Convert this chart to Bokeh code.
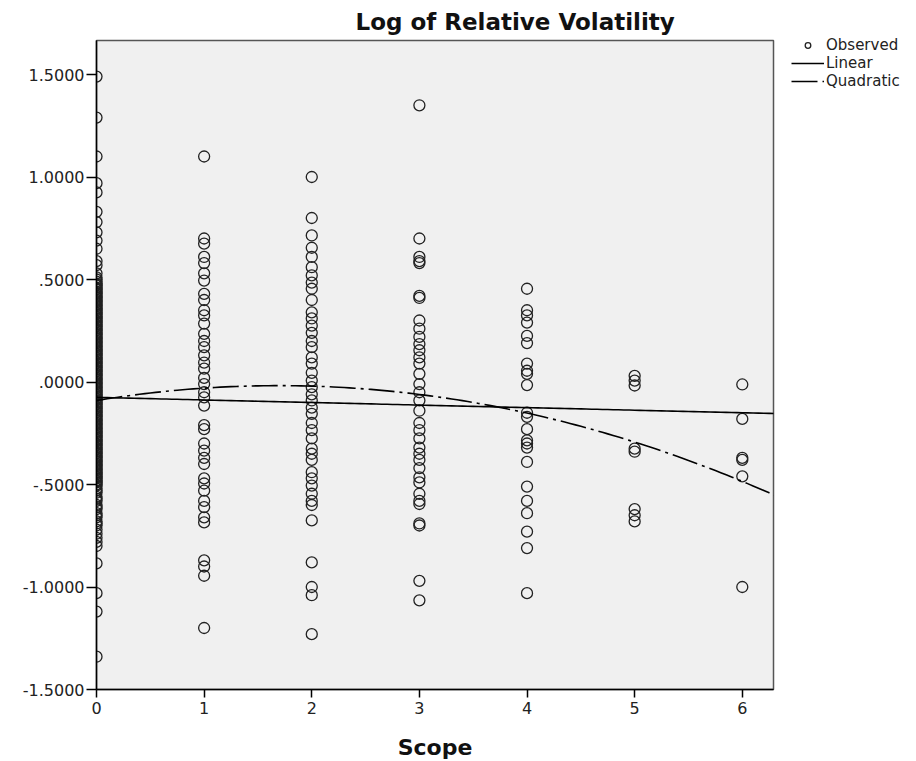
from bokeh.plotting import figure
from bokeh.models import (Range1d, FixedTicker, Legend, LegendItem, Title)
from bokeh.embed import file_html
from bokeh.resources import INLINE

# ---- data ----
scope0 = [1.49, 1.29, 1.10, 0.97, 0.925, 0.83, 0.78, 0.73, 0.69, 0.65, 0.59, 0.57, 0.53,
          0.51, 0.50, 0.49, 0.48, 0.47, 0.46, 0.45, 0.44, 0.43, 0.42, 0.41, 0.40, 0.39, 0.38,
          0.37, 0.36, 0.35, 0.34, 0.33, 0.32, 0.31, 0.30, 0.29, 0.28, 0.27, 0.26, 0.25, 0.24,
          0.23, 0.22, 0.21, 0.20, 0.19, 0.18, 0.17, 0.16, 0.15, 0.14, 0.13, 0.12, 0.11, 0.10,
          0.09, 0.08, 0.07, 0.06, 0.05, 0.04, 0.03, 0.02, 0.01, 0.00, -0.01, -0.02, -0.03,
          -0.04, -0.05, -0.06, -0.07, -0.08, -0.09, -0.10, -0.11, -0.12, -0.13, -0.14, -0.15,
          -0.16, -0.17, -0.18, -0.19, -0.20, -0.21, -0.22, -0.23, -0.24, -0.25, -0.26, -0.27,
          -0.28, -0.29, -0.30, -0.31, -0.32, -0.33, -0.34, -0.35, -0.36, -0.37, -0.38, -0.39,
          -0.40, -0.41, -0.42, -0.43, -0.44, -0.45, -0.46, -0.47, -0.48, -0.49, -0.50,
          -0.52, -0.54, -0.56, -0.58, -0.60, -0.62, -0.64, -0.66, -0.68, -0.70, -0.72, -0.74,
          -0.76, -0.78, -0.80, -0.885, -1.03, -1.12, -1.34,
          0.475, 0.455, 0.435, 0.415, 0.395, 0.375, 0.355, 0.335, 0.315, 0.295, 0.275, 0.255,
          0.235, 0.215, 0.195, 0.175, 0.155, 0.135, 0.115, 0.095, 0.075, 0.055, 0.035, 0.015,
          -0.005, -0.025, -0.045, -0.065, -0.085, -0.105, -0.125, -0.145, -0.165, -0.185,
          -0.205, -0.225, -0.245, -0.265, -0.285, -0.305, -0.325, -0.345, -0.365, -0.385,
          -0.405, -0.425, -0.445, -0.465, -0.485, -0.505, -0.53, -0.57, -0.61, -0.65, -0.69]
scope1 = [1.10, 0.70, 0.675, 0.61, 0.58, 0.53, 0.495, 0.43, 0.40, 0.35, 0.325, 0.285, 0.235,
          0.20, 0.17, 0.13, 0.095, 0.065, 0.02, -0.01, -0.05, -0.075, -0.115, -0.21, -0.23,
          -0.30, -0.335, -0.37, -0.40, -0.47, -0.495, -0.53, -0.58, -0.61, -0.66, -0.685,
          -0.87, -0.90, -0.945, -1.20]
scope2 = [1.00, 0.80, 0.715, 0.655, 0.61, 0.56, 0.52, 0.485, 0.455, 0.40, 0.34, 0.31, 0.275,
          0.24, 0.20, 0.17, 0.12, 0.09, 0.045, 0.007, -0.025, -0.06, -0.09, -0.125, -0.155,
          -0.20, -0.235, -0.275, -0.325, -0.35, -0.38, -0.44, -0.47, -0.505, -0.545, -0.58,
          -0.60, -0.675, -0.88, -1.00, -1.04, -1.23]
scope3 = [1.35, 0.70, 0.61, 0.59, 0.58, 0.42, 0.41, 0.30, 0.26, 0.22, 0.185, 0.155, 0.12, 0.09,
          0.04, -0.01, -0.05, -0.09, -0.14, -0.20, -0.235, -0.275, -0.32, -0.35, -0.38, -0.42,
          -0.465, -0.49, -0.545, -0.58, -0.595, -0.69, -0.70, -0.97, -1.065]
scope4 = [0.455, 0.35, 0.325, 0.29, 0.225, 0.19, 0.09, 0.055, 0.04, -0.015, -0.15, -0.17,
          -0.23, -0.285, -0.30, -0.32, -0.39, -0.51, -0.58, -0.64, -0.73, -0.81, -1.03]
scope5 = [0.03, 0.007, -0.017, -0.325, -0.34, -0.62, -0.65, -0.68]
scope6 = [-0.012, -0.18, -0.37, -0.38, -0.46, -1.00]

# fitted models (coefficients)
linear_coef = [-0.075, -0.0125]
quad_coef = [-0.09, 0.0854, -0.0252]
curve_x = [i * 0.05 for i in range(0, 127)]

yticks = [-1.5, -1.0, -0.5, 0.0, 0.5, 1.0, 1.5]
ytick_labels = ["-1.5000", "-1.0000", "-.5000", ".0000", ".5000", "1.0000", "1.5000"]
xticks = [0, 1, 2, 3, 4, 5, 6]

# ---- build ----
obs_x, obs_y = [], []
for s, vals in enumerate([scope0, scope1, scope2, scope3, scope4, scope5, scope6]):
    obs_x += [s] * len(vals)
    obs_y += vals

lin_y = [linear_coef[0] + linear_coef[1] * x for x in curve_x]
quad_y = [quad_coef[0] + quad_coef[1] * x + quad_coef[2] * x * x for x in curve_x]

FONT = "DejaVu Sans"

p = figure(width=916, height=761, output_backend="svg", toolbar_location=None,
           x_range=Range1d(0, 6.29), y_range=Range1d(-1.5, 1.666),
           min_border_left=96, min_border_right=143, min_border_top=40, min_border_bottom=72)
p.frame_width = 677
p.frame_height = 649
p.background_fill_color = "#f0f0f0"
p.border_fill_color = "white"
p.outline_line_color = "#555555"
p.outline_line_width = 1.5
p.xgrid.visible = False
p.ygrid.visible = False

r_obs = p.scatter(obs_x, obs_y, size=11, marker="circle", fill_alpha=0,
                  line_color="#222222", line_width=1.3)
r_lin = p.line(curve_x, lin_y, line_color="black", line_width=1.6)
r_quad = p.line(curve_x, quad_y, line_color="black", line_width=1.6, line_dash="26 5 3 5")

for ax in (p.xaxis[0], p.yaxis[0]):
    ax.axis_line_color = "black"
    ax.axis_line_width = 1.5
    ax.major_tick_line_color = "black"
    ax.major_tick_line_width = 1.5
    ax.major_tick_in = 0
    ax.minor_tick_line_color = None
    ax.major_label_text_font = FONT
    ax.major_label_text_font_size = "16px"
    ax.major_label_text_color = "#222222"

p.xaxis.ticker = FixedTicker(ticks=xticks)
p.xaxis.major_tick_out = 8
p.xaxis.major_label_standoff = 4
p.xaxis.axis_label = "Scope"
p.xaxis.axis_label_text_font = FONT
p.xaxis.axis_label_text_font_style = "bold"
p.xaxis.axis_label_text_font_size = "22px"
p.xaxis.axis_label_standoff = 18
p.xaxis.axis_label_text_color = "#111111"

p.yaxis.ticker = FixedTicker(ticks=yticks)
p.yaxis.major_label_overrides = {t: l for t, l in zip(yticks, ytick_labels)}
p.yaxis.major_tick_out = 10
p.yaxis.major_label_standoff = 2

title = Title(text="Log of Relative Volatility", align="left", offset=259,
              text_font=FONT, text_font_style="bold", text_font_size="23px",
              text_color="#111111", standoff=11)
p.add_layout(title, "above")

legend = Legend(items=[LegendItem(label="Observed", renderers=[r_obs]),
                       LegendItem(label="Linear", renderers=[r_lin]),
                       LegendItem(label="Quadratic", renderers=[r_quad])],
                location=(18, 599), border_line_alpha=0, background_fill_alpha=0,
                padding=0, margin=0, spacing=0, glyph_width=33, glyph_height=14,
                label_height=14, label_standoff=2, label_text_font=FONT,
                label_text_font_size="15px", label_text_color="#222222",
                label_text_baseline="middle")
p.add_layout(legend, "right")

open("out.html", "w").write(file_html(p, INLINE))
